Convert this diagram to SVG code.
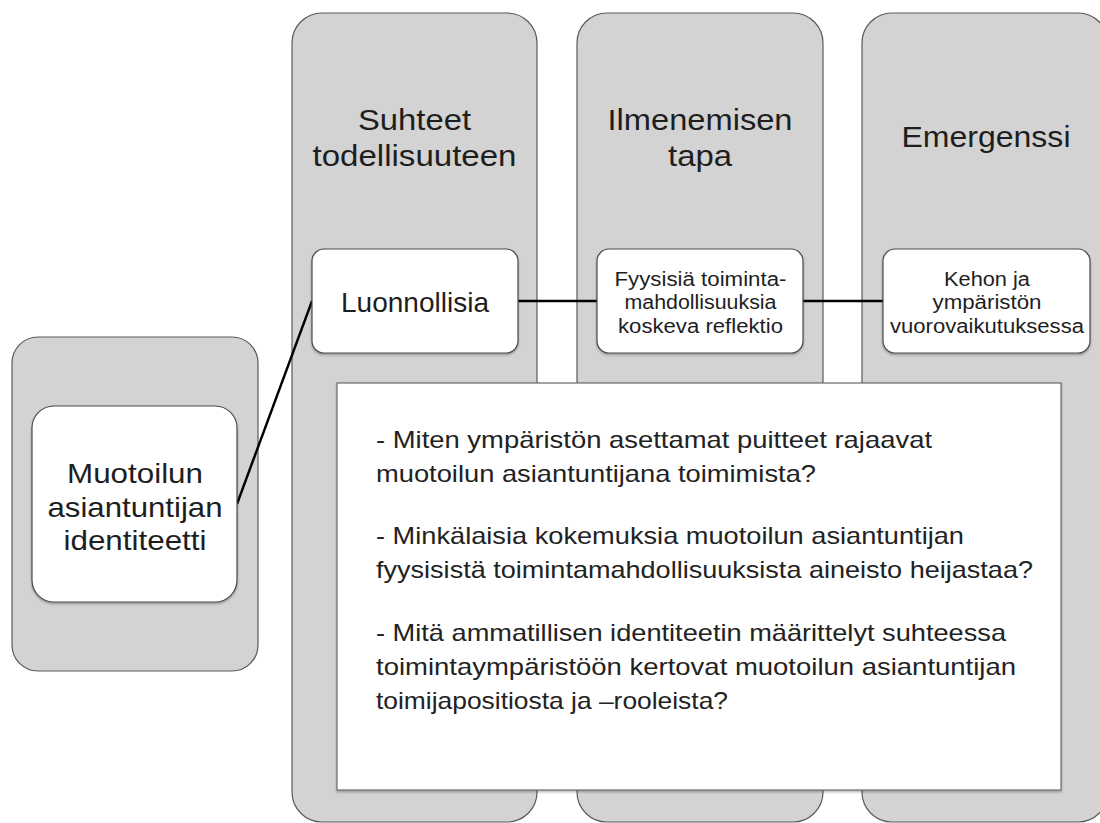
<svg xmlns="http://www.w3.org/2000/svg" width="1100" height="823" viewBox="0 0 1100 823">
  <defs>
    <style>
      .col { fill: #d3d3d3; stroke: #5a5a5a; stroke-width: 1.2; }
      .box { fill: #ffffff; stroke: #4a4a4a; stroke-width: 1.2; }
      .txt { font-family: "Liberation Sans", Arial, Helvetica, sans-serif; fill: #1e1e1e; text-anchor: middle; }
      .title { font-size: 29px; }
      .big { font-size: 28px; }
      .small { font-size: 20px; }
      .body { font-family: "Liberation Sans", Arial, Helvetica, sans-serif; fill: #222222; font-size: 24px; }
      .conn { stroke: #000000; stroke-width: 2.4; fill: none; }
    </style>
    <filter id="shadow" x="-10%" y="-10%" width="120%" height="130%">
      <feDropShadow dx="0" dy="1.5" stdDeviation="1.3" flood-color="#000000" flood-opacity="0.3"/>
    </filter>
  </defs>

  <rect width="1100" height="823" fill="#ffffff"/>

  <g id="col-suhteet">
    <rect class="col" x="292" y="13" width="245" height="809" rx="30" ry="30"/>
    <text class="txt title" x="414.5" y="130" textLength="113" lengthAdjust="spacingAndGlyphs">Suhteet</text>
    <text class="txt title" x="414.5" y="166" textLength="204" lengthAdjust="spacingAndGlyphs">todellisuuteen</text>
  </g>
  <g id="col-ilmeneminen">
    <rect class="col" x="577" y="13" width="246" height="809" rx="30" ry="30"/>
    <text class="txt title" x="700" y="130" textLength="185" lengthAdjust="spacingAndGlyphs">Ilmenemisen</text>
    <text class="txt title" x="700" y="166" textLength="64" lengthAdjust="spacingAndGlyphs">tapa</text>
  </g>
  <g id="col-emergenssi">
    <rect class="col" x="862" y="13" width="246" height="809" rx="30" ry="30"/>
    <text class="txt title" x="986" y="147" textLength="169" lengthAdjust="spacingAndGlyphs">Emergenssi</text>
  </g>

  <g id="identity-outer">
    <rect class="col" x="12" y="337" width="246" height="334" rx="26" ry="26"/>
  </g>

  <g id="connectors">
    <line class="conn" x1="237" y1="504" x2="312" y2="301"/>
    <line class="conn" x1="518" y1="301" x2="597" y2="301"/>
    <line class="conn" x1="803" y1="301" x2="883" y2="301"/>
  </g>

  <g id="identity">
    <rect class="box" x="32" y="406" width="205" height="196" rx="22" ry="22" filter="url(#shadow)"/>
    <text class="txt big" x="135" y="483" textLength="136" lengthAdjust="spacingAndGlyphs">Muotoilun</text>
    <text class="txt big" x="135" y="517" textLength="175" lengthAdjust="spacingAndGlyphs">asiantuntijan</text>
    <text class="txt big" x="135" y="550" textLength="143" lengthAdjust="spacingAndGlyphs">identiteetti</text>
  </g>

  <g id="luonnollisia">
    <rect class="box" x="312" y="249" width="206" height="104" rx="12" ry="12" filter="url(#shadow)"/>
    <text class="txt big" x="415" y="312" textLength="148" lengthAdjust="spacingAndGlyphs">Luonnollisia</text>
  </g>

  <g id="fyysisia">
    <rect class="box" x="597" y="249" width="206" height="104" rx="12" ry="12" filter="url(#shadow)"/>
    <text class="txt small" x="700.5" y="286" textLength="172" lengthAdjust="spacingAndGlyphs">Fyysisiä toiminta-</text>
    <text class="txt small" x="700.5" y="309" textLength="152" lengthAdjust="spacingAndGlyphs">mahdollisuuksia</text>
    <text class="txt small" x="700.5" y="333" textLength="165" lengthAdjust="spacingAndGlyphs">koskeva reflektio</text>
  </g>

  <g id="kehon">
    <rect class="box" x="883" y="249" width="207" height="104" rx="12" ry="12" filter="url(#shadow)"/>
    <text class="txt small" x="987" y="286" textLength="86" lengthAdjust="spacingAndGlyphs">Kehon ja</text>
    <text class="txt small" x="987" y="309" textLength="109" lengthAdjust="spacingAndGlyphs">ympäristön</text>
    <text class="txt small" x="987" y="333" textLength="194" lengthAdjust="spacingAndGlyphs">vuorovaikutuksessa</text>
  </g>

  <g id="questions">
    <rect x="337" y="383" width="724" height="407" fill="#ffffff" stroke="#6a6a6a" stroke-width="1.2" filter="url(#shadow)"/>
    <text class="body" x="376" y="448" textLength="556" lengthAdjust="spacingAndGlyphs">- Miten ympäristön asettamat puitteet rajaavat</text>
    <text class="body" x="376" y="482" textLength="440" lengthAdjust="spacingAndGlyphs">muotoilun asiantuntijana toimimista?</text>
    <text class="body" x="376" y="544" textLength="588" lengthAdjust="spacingAndGlyphs">- Minkälaisia kokemuksia muotoilun asiantuntijan</text>
    <text class="body" x="376" y="578" textLength="657" lengthAdjust="spacingAndGlyphs">fyysisistä toimintamahdollisuuksista aineisto heijastaa?</text>
    <text class="body" x="376" y="641" textLength="630" lengthAdjust="spacingAndGlyphs">- Mitä ammatillisen identiteetin määrittelyt suhteessa</text>
    <text class="body" x="376" y="675" textLength="640" lengthAdjust="spacingAndGlyphs">toimintaympäristöön kertovat muotoilun asiantuntijan</text>
    <text class="body" x="376" y="709" textLength="352" lengthAdjust="spacingAndGlyphs">toimijapositiosta ja –rooleista?</text>
  </g>
</svg>
